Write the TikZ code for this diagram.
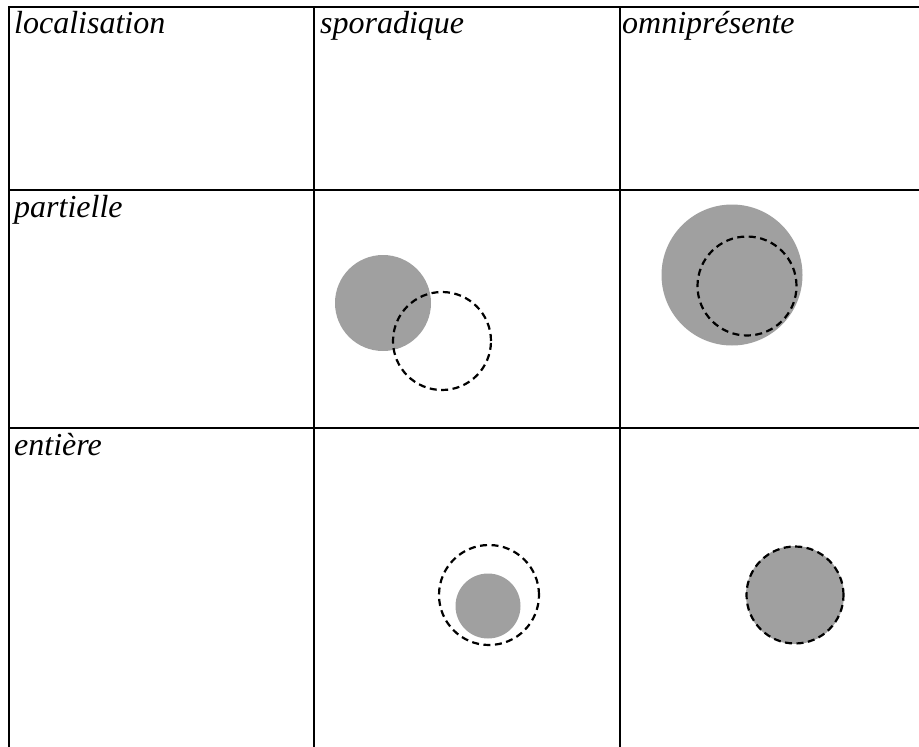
\documentclass[tikz,border=0pt]{standalone}
\usepackage{fontspec}
\setmainfont{Liberation Serif}
\usepackage{xcolor}
\usepackage{tikz}
\usetikzlibrary{positioning}
\definecolor{zonegris}{HTML}{A0A0A0}
\tikzset{
    % Cell labels
    label cell/.style={anchor=base west, inner sep=0pt, font=\fontsize{32}{38}\selectfont\itshape},
    % Circles
    zone/.style={circle, fill=zonegris, inner sep=0pt},
    cible/.style={circle, draw=black, line width=2.2pt, dash pattern=on 7pt off 4.5pt, inner sep=0pt},
    grid line/.style={line width=2.2pt, black},
}

\begin{document}
\begin{tikzpicture}[x=1pt, y=-1pt]
    \useasboundingbox (0,0) rectangle (919,747);

    % Table lines
    \foreach \y in {7, 190, 428} {
        \draw[grid line] (8,\y) -- (919,\y);
    }
    \foreach \x in {9, 314, 620} {
        \draw[grid line] (\x,6) -- (\x,747);
    }

    % Headings
    \node[label cell] (loc) at (14, 33) {localisation};
    \node[label cell] (spor) at (320, 33) {sporadique};
    \node[label cell] (omni) at (622, 33) {omniprésente};
    \node[label cell] (part) at (14, 217) {partielle};
    \node[label cell] (enti) at (14, 455) {entière};

    % Partielle / sporadique
    \node[zone, minimum size=96pt] (zoneA) at (383, 303) {};
    \node[cible, minimum size=98pt] (cibleA) at (442, 341) {};

    % Partielle / omnipresente
    \node[zone, minimum size=141pt] (zoneB) at (732, 275) {};
    \node[cible, minimum size=99pt] (cibleB) at (747, 286) {};

    % Entiere / sporadique
    \node[zone, minimum size=65pt] (zoneC) at (488, 606) {};
    \node[cible, minimum size=100pt] (cibleC) at (489, 595) {};

    % Entiere / omnipresente
    \node[zone, minimum size=98pt] (zoneD) at (795, 595) {};
    \node[cible, minimum size=97pt] (cibleD) at (795, 595) {};
\end{tikzpicture}
\end{document}
